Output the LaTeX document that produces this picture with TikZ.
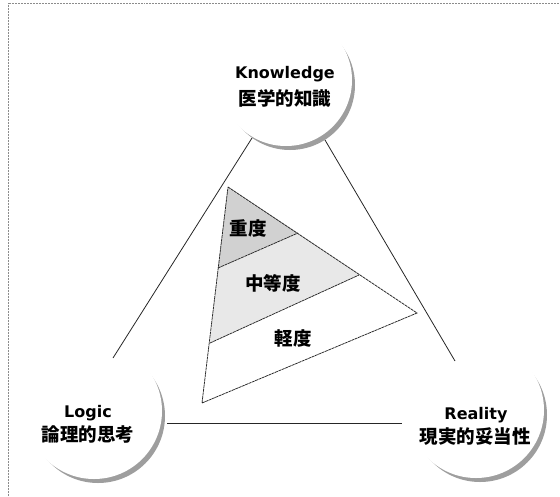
\documentclass[tikz,border=0pt]{standalone}
\usepackage{fontspec}
\usetikzlibrary{calc}
\newfontfamily\jp{Noto Sans CJK JP}
\newfontfamily\lat{DejaVu Sans}
\tikzset{
  shadowc/.style={fill=black!38},
  lat/.style={font=\lat\bfseries\fontsize{16}{20}\selectfont, inner sep=0pt, anchor=center},
  jptxt/.style={font=\jp\bfseries\fontsize{18.5}{20}\selectfont, inner sep=0pt, anchor=center},
  edge/.style={draw=black!85, line width=0.8pt},
  pyr/.style={draw=black!85, line width=0.75pt, dash pattern=on 3pt off 0.6pt},
  frame/.style={draw=black!45, line width=0.5pt, densely dotted},
}
\begin{document}
\begin{tikzpicture}[x=1pt,y=-1pt]
\useasboundingbox (0,0) rectangle (560,496);
% frame
\coordinate (f0) at (8,3);
\coordinate (f1) at (560,3);
\coordinate (f2) at (8,496);
\draw[frame] (f1) -- (f0) -- (f2);
% circle centres
\coordinate (know) at (286,80);
\coordinate (logic) at (94,411);
\coordinate (real) at (476,410);
% shadows
\fill[shadowc] ($(know)+(4,5)$) circle (65);
\fill[white] (know) circle (66);
\fill[shadowc] ($(logic)+(4,5)$) circle (67);
\fill[white] (logic) circle (68);
\fill[shadowc] ($(real)+(4,5)$) circle (67);
\fill[white] (real) circle (68);
% texts
\node[lat] (kt1) at (285,74) {Knowledge};
\node[jptxt] (kt2) at (285,98) {医学的知識};
\node[lat] (lt1) at (88,413) {Logic};
\node[jptxt] (lt2) at (88,434) {論理的思考};
\node[lat] (rt1) at (476,415) {Reality};
\node[jptxt] (rt2) at (475,437) {現実的妥当性};
% outer connectors
\coordinate (kL) at (252,138);
\coordinate (kR) at (325,140);
\coordinate (lK) at (113,358);
\coordinate (rK) at (455,361);
\coordinate (lR) at (167,423);
\coordinate (rL) at (402,423);
\draw[edge] (kL) -- (lK);
\draw[edge] (kR) -- (rK);
\draw[edge] (lR) -- (rL);
% inner pyramid
\coordinate (T) at (228,187);
\coordinate (B) at (202,403);
\coordinate (R) at (417,313);
\coordinate (d1l) at (218,268);
\coordinate (d1r) at (298,233);
\coordinate (d2l) at (210,343);
\coordinate (d2r) at (359,275);
\fill[black!18] (T) -- (d1r) -- (d1l) -- cycle;
\fill[black!9] (d1l) -- (d1r) -- (d2r) -- (d2l) -- cycle;
\draw[pyr] (T) -- (R) -- (B) -- cycle;
\draw[pyr] (d1l) -- (d1r);
\draw[pyr] (d2l) -- (d2r);
\node[jptxt] (s1) at (248,228) {重度};
\node[jptxt] (s2) at (273,283) {中等度};
\node[jptxt] (s3) at (293,338) {軽度};
\end{tikzpicture}
\end{document}
